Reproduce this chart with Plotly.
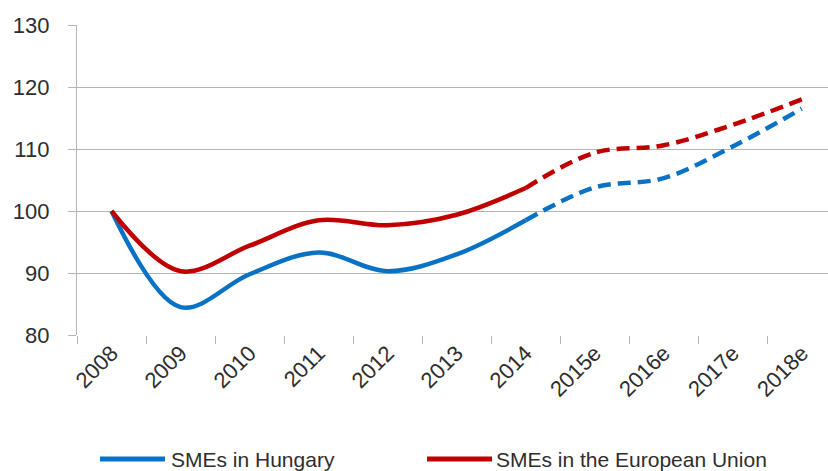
import plotly.graph_objects as go

# Index values (2008 = 100); years marked "e" are estimates
years = ["2008", "2009", "2010", "2011", "2012", "2013", "2014",
         "2015e", "2016e", "2017e", "2018e"]
hungary = [100.0, 84.5, 89.8, 93.3, 90.3, 93.0, 98.5, 103.8, 105.3, 110.4, 116.5]
eu = [100.0, 90.3, 94.4, 98.5, 97.7, 99.4, 103.7, 109.4, 110.6, 113.9, 118.0]
last_actual = 6  # index of 2014, last non-estimated year

series_names = ["SMEs in Hungary", "SMEs in the European Union"]
series_colors = ["#0A72C4", "#C00000"]
y_ticks = [80, 90, 100, 110, 120, 130]

FONT = "Liberation Sans, Arial, sans-serif"
TEXT = "#2E2E2E"
GRID = "#B4B4B4"

fig = go.Figure()
for name, vals, col in zip(series_names, [hungary, eu], series_colors):
    # actual years: solid
    fig.add_trace(go.Scatter(
        x=years[:last_actual + 1], y=vals[:last_actual + 1],
        mode="lines", name=name, showlegend=False,
        line=dict(color=col, width=4.5, shape="spline", smoothing=1.0),
    ))
    # estimates: dashed
    fig.add_trace(go.Scatter(
        x=years[last_actual:], y=vals[last_actual:],
        mode="lines", name=name, showlegend=False,
        line=dict(color=col, width=4.5, shape="spline", smoothing=1.0,
                  dash="13px,7px"),
    ))

# Legend drawn below the axis
LEG_Y = -(459 - 335) / 310
legend_items = [(100, 165, 169), (427, 492, 494)]
for (x0, x1, xt), name, col in zip(legend_items, series_names, series_colors):
    fig.add_shape(type="line", xref="paper", yref="paper",
                  x0=(x0 - 77) / 751, x1=(x1 - 77) / 751,
                  y0=LEG_Y, y1=LEG_Y,
                  line=dict(color=col, width=5))
    fig.add_annotation(text=name, xref="paper", yref="paper",
                       x=(xt - 77) / 751, y=LEG_Y,
                       xanchor="left", yanchor="middle", showarrow=False,
                       font=dict(family=FONT, size=21, color=TEXT))

fig.update_layout(
    width=828, height=471,
    margin=dict(l=77, r=0, t=25, b=136),
    paper_bgcolor="white", plot_bgcolor="white",
    font=dict(family=FONT, color=TEXT),
    showlegend=False,
)
fig.update_xaxes(
    type="category", categoryorder="array", categoryarray=years,
    range=[-0.5, 10.38],
    showgrid=False, showline=False, zeroline=False,
    ticks="outside", tickson="boundaries", ticklen=8, tickwidth=1.3,
    tickcolor=GRID, tickangle=-45,
    tickfont=dict(family=FONT, size=22, color=TEXT),
)
fig.update_yaxes(
    range=[80, 130], tickvals=y_ticks,
    showgrid=True, gridcolor=GRID, gridwidth=1.3,
    showline=True, linecolor=GRID, linewidth=1.3,
    zeroline=False,
    ticks="outside", ticklen=8, tickwidth=1.3, tickcolor=GRID,
    ticklabelstandoff=14,
    tickfont=dict(family=FONT, size=22, color=TEXT),
)

fig.write_html("out.html")
